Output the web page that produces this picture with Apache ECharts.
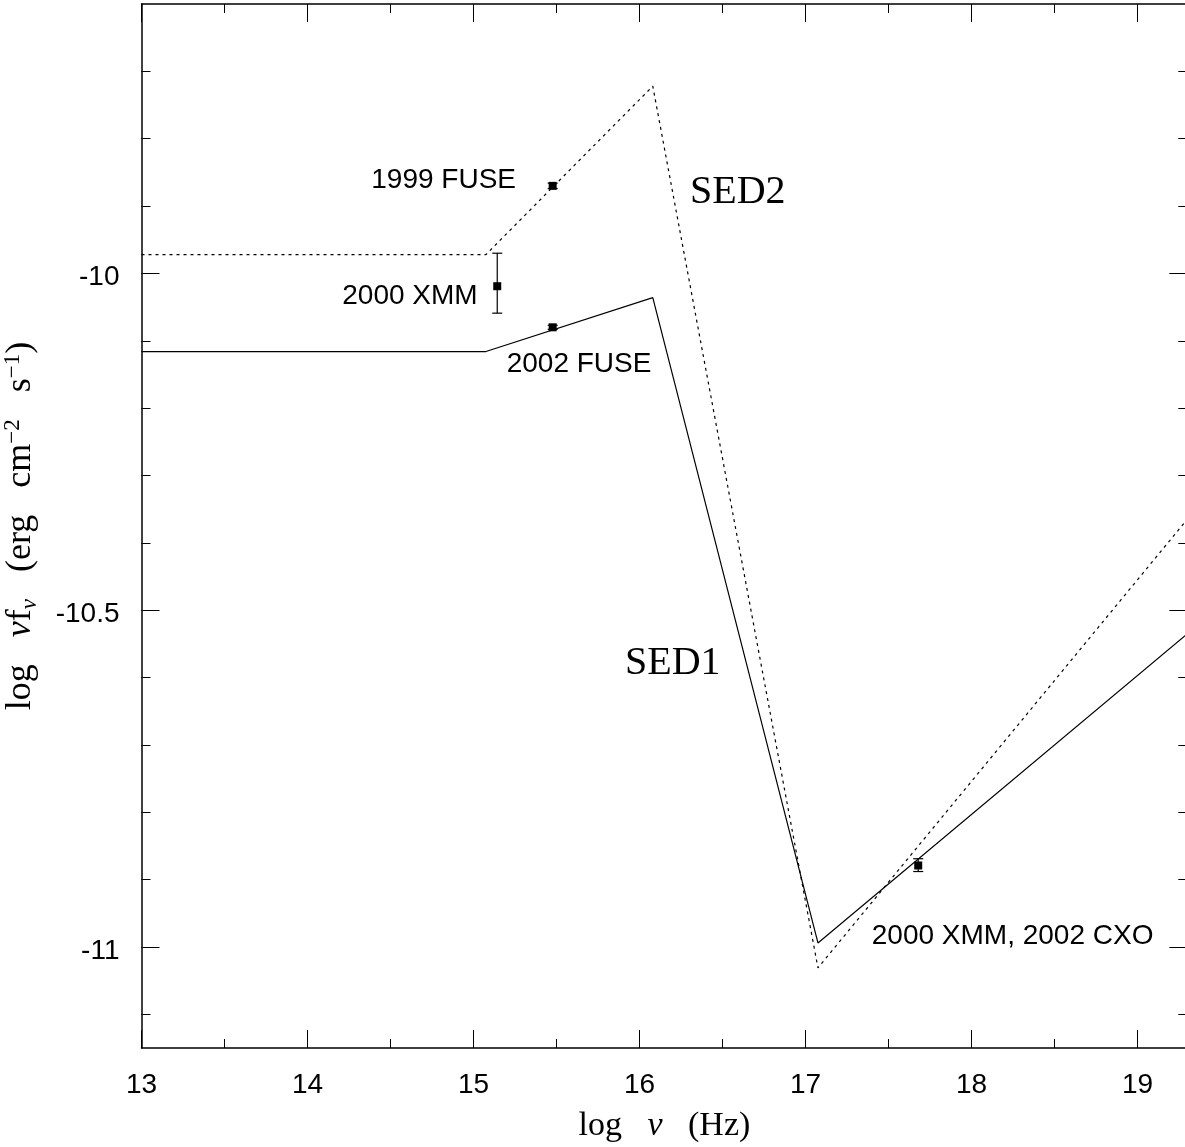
<!DOCTYPE html>
<html>
<head>
<meta charset="utf-8">
<title>SED</title>
<script src="https://cdn.jsdelivr.net/npm/echarts@6/dist/echarts.min.js"></script>
<style>
  html, body { margin: 0; padding: 0; background: #fff; }
  #chart { width: 1185px; height: 1147px; }
</style>
</head>
<body>
<div id="chart"></div>
<script>
// Broken power-law spectral energy distributions (log nu, log nu f_nu)
const sed1 = [[13, -10.116], [15.075, -10.116], [16.08, -10.036], [17.075, -10.994], [19.3, -10.535]];
const sed2 = [[13, -9.972], [15.075, -9.972], [16.08, -9.722], [17.075, -11.031], [19.3, -10.365]];

// Observations: [log nu, value, lower, upper]
const obsPoints = [
  [15.477, -9.870, -9.874, -9.866],    // 1999 FUSE
  [15.143, -10.019, -10.059, -9.970],  // 2000 XMM (UV)
  [15.477, -10.080, -10.083, -10.077], // 2002 FUSE
  [17.679, -10.879, -10.888, -10.869]  // 2000 XMM, 2002 CXO
];

// Text annotations: [log nu, value, text, side]
const notes = [
  [15.256, -9.862, '1999 FUSE', 'right'],
  [15.025, -10.034, '2000 XMM', 'right'],
  [15.200, -10.135, '2002 FUSE', 'left'],
  [17.399, -10.984, '2000 XMM, 2002 CXO', 'left']
];
const curveNames = [
  [16.304, -9.880, 'SED2'],
  [15.913, -10.579, 'SED1']
];

// Axis ticks
const xMajor = [13, 14, 15, 16, 17, 18, 19];
const xMinor = [13.5, 14.5, 15.5, 16.5, 17.5, 18.5];
const yMajor = [-11, -10.5, -10];
const yMinor = [-11.1, -10.9, -10.8, -10.7, -10.6, -10.4, -10.3, -10.2, -10.1, -9.9, -9.8, -9.7];

const X_MIN = 13, X_MAX = 19.3, Y_MIN = -11.15, Y_MAX = -9.6;
const SANS = '"Liberation Sans", Arial, sans-serif';
const SERIF = '"Liberation Serif", "DejaVu Serif", serif';

function xAxisDef(pos, ticks, len, withLine, withLabels) {
  return {
    type: 'value', position: pos, min: X_MIN, max: X_MAX,
    splitLine: { show: false },
    axisLine: { show: withLine, lineStyle: { color: '#000', width: 1.5 } },
    axisTick: { show: true, inside: true, length: len, customValues: ticks,
                lineStyle: { color: '#000', width: 1 } },
    axisLabel: withLabels
      ? { show: true, customValues: ticks, fontFamily: SANS, fontSize: 28, color: '#000', margin: 23 }
      : { show: false }
  };
}
function yAxisDef(pos, ticks, len, withLine, withLabels) {
  return {
    type: 'value', position: pos, min: Y_MIN, max: Y_MAX,
    splitLine: { show: false },
    axisLine: { show: withLine, lineStyle: { color: '#000', width: 1.5 } },
    axisTick: { show: true, inside: true, length: len, customValues: ticks,
                lineStyle: { color: '#000', width: 1 } },
    axisLabel: withLabels
      ? { show: true, customValues: ticks, fontFamily: SANS, fontSize: 28, color: '#000', margin: 22,
          verticalAlign: 'top', padding: [-10, 0, 0, 0], formatter: v => String(v) }
      : { show: false }
  };
}

const xAxes = [
  xAxisDef('bottom', xMajor, 18, true, true),
  xAxisDef('bottom', xMinor, 9, false, false),
  xAxisDef('top', xMajor, 18, true, false),
  xAxisDef('top', xMinor, 9, false, false)
];
Object.assign(xAxes[0], {
  name: '{b|log   }{i|ν}{b|   (Hz)}', nameLocation: 'middle', nameGap: 61,
  nameTextStyle: {
    fontFamily: SERIF, fontSize: 34, color: '#000',
    rich: {
      b: { fontFamily: SERIF, fontSize: 34, color: '#000' },
      i: { fontFamily: SERIF, fontSize: 34, color: '#000', fontStyle: 'italic' }
    }
  }
});

const yAxes = [
  yAxisDef('left', yMajor, 18, true, true),
  yAxisDef('left', yMinor, 9, false, false),
  yAxisDef('right', yMajor, 18, true, false),
  yAxisDef('right', yMinor, 9, false, false)
];
Object.assign(yAxes[0], {
  name: '{b|log   }{i|ν}{b|f}{sub|ν}{b|   (erg   cm}{sup|−2}{b|   s}{sup|−1}{b|)}',
  nameLocation: 'middle', nameGap: 86, nameRotate: 90,
  nameTextStyle: {
    fontFamily: SERIF, color: '#000',
    rich: {
      b: { fontFamily: SERIF, fontSize: 36, color: '#000', lineHeight: 48, verticalAlign: 'middle' },
      i: { fontFamily: SERIF, fontSize: 36, color: '#000', lineHeight: 48, verticalAlign: 'middle', fontStyle: 'italic' },
      sub: { fontFamily: SERIF, fontSize: 23, color: '#000', fontStyle: 'italic', lineHeight: 48, verticalAlign: 'bottom', padding: [0, 0, 3, 0] },
      sup: { fontFamily: SERIF, fontSize: 23, color: '#000', lineHeight: 48, verticalAlign: 'top', padding: [5, 0, 0, 0] }
    }
  }
});

const lineStyleSolid = { color: '#000', width: 1.2 };
const lineStyleDot = { color: '#000', width: 1.2, type: [3, 4] };

function textSeries(name, rows, family, size, alignOf) {
  return {
    type: 'scatter', name: name, symbolSize: 0, itemStyle: { color: '#000' },
    data: rows.map(n => ({
      value: [n[0], n[1]],
      label: {
        show: true, formatter: n[2], position: [0, 0],
        align: alignOf(n), verticalAlign: 'middle', textBorderWidth: 0,
        fontFamily: family, fontSize: size, color: '#000', opacity: 1
      }
    }))
  };
}

const option = {
  animation: false,
  backgroundColor: '#fff',
  grid: { left: 141.5, right: -2.3, top: 4, bottom: 99, containLabel: false, outerBoundsMode: 'none' },
  xAxis: xAxes,
  yAxis: yAxes,
  series: [
    { type: 'line', name: 'SED1', data: sed1, symbol: 'none', lineStyle: lineStyleSolid, clip: true },
    { type: 'line', name: 'SED2', data: sed2, symbol: 'none', lineStyle: lineStyleDot, clip: true },
    {
      type: 'custom', name: 'errors', data: obsPoints,
      renderItem: function (params, api) {
        const x = api.value(0);
        const c = api.coord([x, api.value(1)]);
        const lo = api.coord([x, api.value(2)]);
        const hi = api.coord([x, api.value(3)]);
        const cap = 5;
        const st = { stroke: '#000', lineWidth: 1.2 };
        return {
          type: 'group',
          children: [
            { type: 'line', shape: { x1: c[0], y1: lo[1], x2: c[0], y2: hi[1] }, style: st },
            { type: 'line', shape: { x1: c[0] - cap, y1: lo[1], x2: c[0] + cap, y2: lo[1] }, style: st },
            { type: 'line', shape: { x1: c[0] - cap, y1: hi[1], x2: c[0] + cap, y2: hi[1] }, style: st },
            { type: 'rect', shape: { x: c[0] - 4, y: c[1] - 4, width: 8, height: 8 }, style: { fill: '#000' } }
          ]
        };
      }
    },
    textSeries('notes', notes, SANS, 28, n => n[3]),
    textSeries('curveNames', curveNames, SERIF, 40, () => 'left')
  ]
};

const chart = echarts.init(document.getElementById('chart'), null, { renderer: 'canvas' });
chart.setOption(option);
</script>
</body>
</html>
